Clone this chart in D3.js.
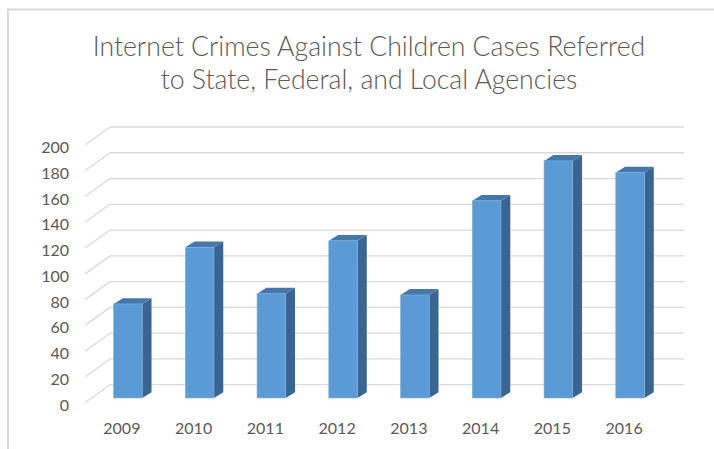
<!DOCTYPE html>
<html lang="en">
<meta charset="utf-8">
<style>
body {
  margin: 0;
  background: #fff;
  font-family: 'Lato', 'Open Sans', sans-serif;
}
.grid line {
  stroke: #d9d9d9;
  stroke-width: 1.3px;
}
.tick-label {
  fill: #595959;
  font-size: 16px;
}
.title {
  fill: #595959;
  font-size: 26.6px;
  font-weight: 300;
}
</style>
<body>
<div id="chart"></div>
<script src="https://d3js.org/d3.v7.min.js"></script>
<script>

// data
var years = ["2009", "2010", "2011", "2012", "2013", "2014", "2015", "2016"];
var cases = [73, 117, 81, 122, 80, 153, 184, 175];
var yTicks = [0, 20, 40, 60, 80, 100, 120, 140, 160, 180, 200];
var titleLines = ["Internet Crimes Against Children Cases Referred",
                  "to State, Federal, and Local Agencies"];

var width = 714,
    height = 449;

// 3d-ish depth offsets
var wallDx = 25, wallDy = -18;      // front floor edge -> back wall
var barOffX = 7, barOffY = -4.7;    // front floor edge -> bar front face
var barDx = 9.3, barDy = -5.8;      // bar depth

var svg = d3.select("#chart").append("svg")
    .attr("width", width)
    .attr("height", height);

// chart frame (runs off the right and bottom edges)
svg.append("rect")
    .attr("x", 8)
    .attr("y", 9.5)
    .attr("width", 720)
    .attr("height", 460)
    .attr("fill", "none")
    .attr("stroke", "#d9d9d9")
    .attr("stroke-width", 2);

// scales on the front plane
var x = d3.scaleBand()
    .domain(years)
    .range([85, 659])
    .padding(0);

var y = d3.scaleLinear()
    .domain([0, 200])
    .range([402.7, 145]);

// gridlines: diagonal side wall + back wall
var grid = svg.append("g").attr("class", "grid");
grid.selectAll("line.diag")
    .data(yTicks)
  .enter().append("line")
    .attr("class", "diag")
    .attr("x1", 85)
    .attr("y1", function(d) { return y(d); })
    .attr("x2", 85 + wallDx)
    .attr("y2", function(d) { return y(d) + wallDy; });
grid.selectAll("line.back")
    .data(yTicks)
  .enter().append("line")
    .attr("class", "back")
    .attr("x1", 85 + wallDx)
    .attr("y1", function(d) { return y(d) + wallDy; })
    .attr("x2", 659 + wallDx)
    .attr("y2", function(d) { return y(d) + wallDy; });

// y tick labels
svg.append("g")
  .selectAll("text")
    .data(yTicks)
  .enter().append("text")
    .attr("class", "tick-label")
    .attr("x", 69)
    .attr("y", function(d) { return y(d) + 1.5; })
    .attr("text-anchor", "end")
    .attr("dominant-baseline", "central")
    .text(function(d) { return d; });

// bars
var bw = x.bandwidth() * 0.4;
var bars = svg.append("g")
  .selectAll("g")
    .data(years.map(function(yr, i) { return {year: yr, value: cases[i]}; }))
  .enter().append("g");

function x0(d) { return x(d.year) + x.bandwidth() / 2 - bw / 2 + barOffX; }
function yTop(d) { return y(d.value) + barOffY; }
var yBase = y(0) + barOffY;

// side face
bars.append("path")
    .attr("fill", "#386592")
    .attr("d", function(d) {
      var l = x0(d) + bw;
      return "M" + l + "," + yTop(d) +
             "L" + (l + barDx) + "," + (yTop(d) + barDy) +
             "L" + (l + barDx) + "," + (yBase + barDy) +
             "L" + l + "," + yBase + "Z";
    });
// top face
bars.append("path")
    .attr("fill", "#4577ad")
    .attr("d", function(d) {
      var l = x0(d), t = yTop(d);
      return "M" + l + "," + t +
             "L" + (l + barDx) + "," + (t + barDy) +
             "L" + (l + bw + barDx) + "," + (t + barDy) +
             "L" + (l + bw) + "," + t + "Z";
    });
// front face
bars.append("rect")
    .attr("fill", "#5b9bd5")
    .attr("stroke", "#7fb2e0")
    .attr("stroke-width", 0.6)
    .attr("x", x0)
    .attr("y", yTop)
    .attr("width", bw)
    .attr("height", function(d) { return yBase - yTop(d); });

// x labels
svg.append("g")
  .selectAll("text")
    .data(years)
  .enter().append("text")
    .attr("class", "tick-label")
    .attr("x", function(d) { return x(d) + x.bandwidth() / 2 + 1; })
    .attr("y", 434)
    .attr("text-anchor", "middle")
    .text(function(d) { return d; });

// title
svg.append("g")
  .selectAll("text")
    .data(titleLines)
  .enter().append("text")
    .attr("class", "title")
    .attr("x", 369)
    .attr("y", function(d, i) { return 56 + i * 33; })
    .attr("text-anchor", "middle")
    .text(function(d) { return d; });

</script>
</body>
</html>
